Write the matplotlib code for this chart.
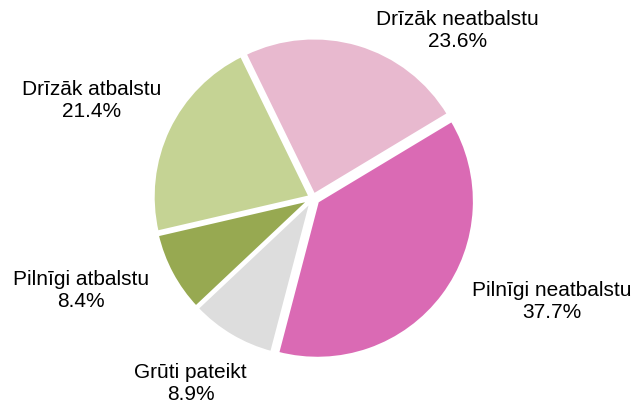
import matplotlib
matplotlib.use("Agg")
import matplotlib.pyplot as plt

# slices in clockwise order starting at the top
labels = ['Drīzāk neatbalstu', 'Pilnīgi neatbalstu', 'Grūti pateikt', 'Pilnīgi atbalstu', 'Drīzāk atbalstu']
values = [23.6, 37.7, 8.9, 8.4, 21.4]
colors = ['#e8b9cf', '#da6ab4', '#dddddd', '#97a951', '#c5d394']
explode = [0.02, 0.035, 0.02, 0.02, 0.02]

# label centres, in pie radius units
label_pos = [(0.92, 1.07), (1.52, -0.66), (-0.78, -1.18), (-1.48, -0.59), (-1.41, 0.62)]

plt.rcParams['font.family'] = ['Liberation Sans', 'DejaVu Sans']

fig = plt.figure(figsize=(6.35, 4.05), dpi=100)
ax = fig.add_axes([0, 0, 1, 1])

ax.pie(values, colors=colors, explode=explode, startangle=116, counterclock=False,
       wedgeprops=dict(edgecolor='white', linewidth=2.2))

for name, v, (x, y) in zip(labels, values, label_pos):
    ax.text(x, y, f"{name}\n{v:.1f}%", ha='center', va='center', fontsize=15,
            color='black', linespacing=1.2)

ax.set_xlim(-313 / 157, 322 / 157)
ax.set_ylim(-207 / 157, 198 / 157)
ax.set_aspect('equal')
ax.axis('off')

fig.savefig('out.png', dpi=100)
